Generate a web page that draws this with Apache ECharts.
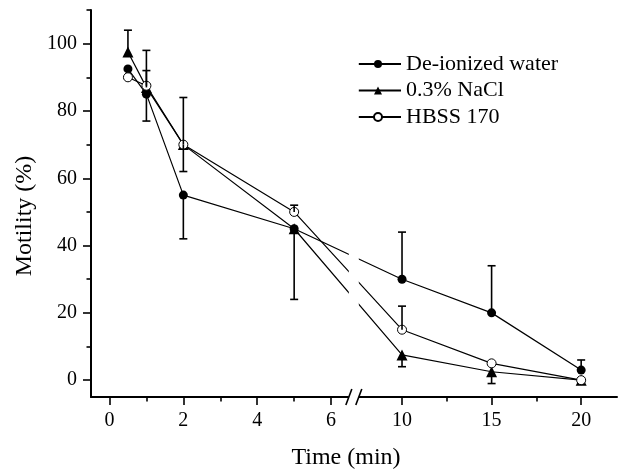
<!DOCTYPE html>
<html>
<head>
<meta charset="utf-8">
<script src="https://cdn.jsdelivr.net/npm/echarts@6/dist/echarts.min.js"></script>
<style>
html,body{margin:0;padding:0;background:#fff;}
#chart{width:621px;height:471px;}
</style>
</head>
<body>
<div id="chart"></div>
<script>
// ---- data ----
const times = [0.5, 1, 2, 5, 10, 15, 20];
const deionized = [92.5, 85, 55, 45, 30, 20, 3];
const nacl = [97.5, 87, 70, 45, 7.5, 2.5, 0];
const hbss = [90, 87.5, 70, 50, 15, 5, 0];
// error bar end values (whisker drawn from point to this value), null = none
const deionizedErrEnd = [null, 77, 42, null, 44, 34, 6];
const naclErrEnd = [104, 92, 62, 24, 4, -1, null];
const hbssErrEnd = [null, 98, 84, 52, 22, null, null];
const seriesNames = ['De-ionized water', '0.3% NaCl', 'HBSS 170'];
const xTickLabels = [0, 2, 4, 6, 10, 15, 20];
const xMinorTicks = [1, 3, 5, 12.5, 17.5];
const yTickLabels = [0, 20, 40, 60, 80, 100];
const yMinorTicks = [10, 30, 50, 70, 90, 110];

// ---- broken x scale (layout): 0..6.5 linear, then 10..22 compressed ----
const SEG2_ORIGIN = 7.92, SEG2_START = 10, SEG2_RATIO = 0.485;
function xmap(t) { return t <= 7 ? t : SEG2_ORIGIN + (t - SEG2_START) * SEG2_RATIO; }
const X_MIN = -0.5, X_MAX = xmap(22);
const BREAK_L = 6.48, BREAK_R = 6.75;

const FONT = '"Liberation Serif", "DejaVu Serif", serif';
const chart = echarts.init(document.getElementById('chart'), null, {renderer: 'canvas'});

function pts(vals) { return times.map((t, i) => [xmap(t), vals[i]]); }
function errPts(vals, ends) {
  const out = [];
  times.forEach((t, i) => { if (ends[i] !== null) out.push([xmap(t), vals[i], ends[i]]); });
  return out;
}
function errSeries(vals, ends) {
  return {
    type: 'custom', z: 10, silent: true,
    data: errPts(vals, ends),
    renderItem: function (params, api) {
      const p = api.coord([api.value(0), api.value(1)]);
      const e = api.coord([api.value(0), api.value(2)]);
      const st = {stroke: '#000', lineWidth: 1.6};
      return {type: 'group', children: [
        {type: 'line', shape: {x1: p[0], y1: p[1], x2: e[0], y2: e[1]}, style: st},
        {type: 'line', shape: {x1: e[0] - 4, y1: e[1], x2: e[0] + 4, y2: e[1]}, style: st}
      ]};
    }
  };
}
const lineStyle = {color: '#000', width: 1.2};

const xAxisBase = {type: 'value', min: X_MIN, max: X_MAX, gridIndex: 0, position: 'bottom', splitLine: {show: false}};
const yAxisBase = {type: 'value', min: -5, max: 110, gridIndex: 0, position: 'left', splitLine: {show: false}};

chart.setOption({
  animation: false,
  backgroundColor: '#fff',
  grid: {left: 91, right: 4, top: 10, bottom: 74},
  xAxis: [
    Object.assign({}, xAxisBase, {
      axisLine: {show: true, onZero: false, lineStyle: {color: '#000', width: 2}},
      axisTick: {show: true, inside: false, length: 8, customValues: xTickLabels.map(xmap), lineStyle: {color: '#000', width: 1.6}},
      axisLabel: {show: true, customValues: xTickLabels.map(xmap), margin: 14, color: '#000', fontFamily: FONT, fontSize: 20,
        formatter: function (v) { const t = xTickLabels.find(tt => Math.abs(xmap(tt) - v) < 1e-6); return t === undefined ? '' : String(t); }}
    }),
    Object.assign({}, xAxisBase, {
      axisLine: {show: false, onZero: false},
      axisTick: {show: true, inside: false, length: 4.5, customValues: xMinorTicks.map(xmap), lineStyle: {color: '#000', width: 1.6}},
      axisLabel: {show: false}
    })
  ],
  yAxis: [
    Object.assign({}, yAxisBase, {
      axisLine: {show: true, onZero: false, lineStyle: {color: '#000', width: 2}},
      axisTick: {show: true, inside: false, length: 8, customValues: yTickLabels, lineStyle: {color: '#000', width: 1.6}},
      axisLabel: {show: true, customValues: yTickLabels, margin: 14, color: '#000', fontFamily: FONT, fontSize: 20}
    }),
    Object.assign({}, yAxisBase, {
      axisLine: {show: false, onZero: false},
      axisTick: {show: true, inside: false, length: 4.5, customValues: yMinorTicks, lineStyle: {color: '#000', width: 1.6}},
      axisLabel: {show: false}
    })
  ],
  legend: {
    left: 349, top: 48, orient: 'vertical', itemWidth: 46, itemHeight: 10, itemGap: 4.5,
    textStyle: {color: '#000', fontFamily: FONT, fontSize: 22},
    data: seriesNames
  },
  series: [
    {name: seriesNames[0], type: 'line', data: pts(deionized), symbol: 'circle', symbolSize: 9,
      itemStyle: {color: '#000'}, lineStyle: lineStyle, z: 3},
    {name: seriesNames[1], type: 'line', data: pts(nacl), symbol: 'triangle', symbolSize: 11,
      itemStyle: {color: '#000'}, lineStyle: lineStyle, z: 3},
    {name: seriesNames[2], type: 'line', data: pts(hbss), symbol: 'circle', symbolSize: 9,
      itemStyle: {color: '#fff', borderColor: '#000', borderWidth: 1}, lineStyle: lineStyle, z: 4},
    errSeries(deionized, deionizedErrEnd),
    errSeries(nacl, naclErrEnd),
    errSeries(hbss, hbssErrEnd)
  ]
});

// axis titles and break marks, positioned through the axis scale
const yTop = chart.convertToPixel({yAxisIndex: 0}, 110);
const yAxisPx = chart.convertToPixel({yAxisIndex: 0}, -5);
const bl = chart.convertToPixel({xAxisIndex: 0}, BREAK_L);
const br = chart.convertToPixel({xAxisIndex: 0}, BREAK_R);
const x0 = chart.convertToPixel({xAxisIndex: 0}, X_MIN);
const x1 = chart.convertToPixel({xAxisIndex: 0}, X_MAX);
chart.setOption({
  graphic: [
    {type: 'rect', z: 100, shape: {x: bl, y: yTop, width: br - bl, height: yAxisPx - yTop + 3}, style: {fill: '#fff'}},
    {type: 'line', z: 101, shape: {x1: bl - 3, y1: yAxisPx + 8, x2: bl + 3, y2: yAxisPx - 8}, style: {stroke: '#000', lineWidth: 1.6}},
    {type: 'line', z: 101, shape: {x1: br - 3, y1: yAxisPx + 8, x2: br + 3, y2: yAxisPx - 8}, style: {stroke: '#000', lineWidth: 1.6}},
    {type: 'text', z: 101, x: (x0 + x1) / 2 - 8, y: 458, style: {text: 'Time (min)', fill: '#000', font: '24px ' + FONT, textAlign: 'center', textVerticalAlign: 'middle'}},
    {type: 'text', z: 101, x: 25, y: 216, rotation: Math.PI / 2, style: {text: 'Motility (%)', fill: '#000', font: '24px ' + FONT, textAlign: 'center', textVerticalAlign: 'middle'}}
  ]
});
</script>
</body>
</html>
